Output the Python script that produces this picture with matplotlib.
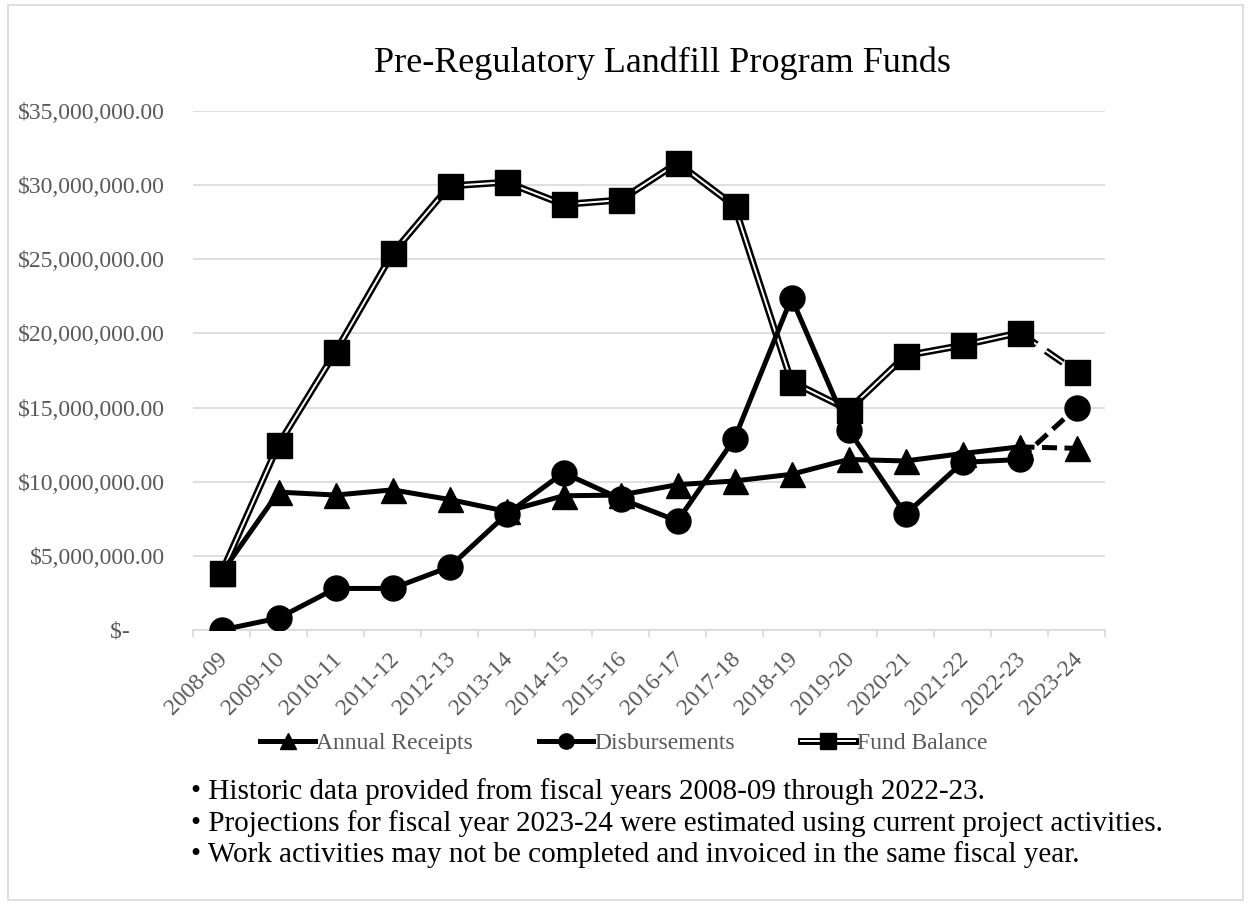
import matplotlib
matplotlib.use("Agg")
import matplotlib.pyplot as plt
from matplotlib.lines import Line2D
from matplotlib.legend_handler import HandlerTuple
from matplotlib.ticker import FuncFormatter, FixedLocator
from matplotlib.patches import Rectangle

plt.rcParams['font.family'] = ['Liberation Serif', 'DejaVu Serif']

years = ["2008-09", "2009-10", "2010-11", "2011-12", "2012-13", "2013-14", "2014-15",
         "2015-16", "2016-17", "2017-18", "2018-19", "2019-20", "2020-21", "2021-22",
         "2022-23", "2023-24"]
annual_receipts = [3.85e6, 9.3e6, 9.1e6, 9.45e6, 8.8e6, 8.0e6, 9.05e6, 9.1e6, 9.8e6,
                   10.05e6, 10.5e6, 11.5e6, 11.4e6, 11.9e6, 12.35e6, 12.25e6]
disbursements = [0.0, 0.8e6, 2.8e6, 2.8e6, 4.25e6, 7.8e6, 10.6e6, 8.85e6, 7.35e6,
                 12.9e6, 22.4e6, 13.5e6, 7.8e6, 11.3e6, 11.5e6, 15.0e6]
fund_balance = [3.85e6, 12.5e6, 18.75e6, 25.4e6, 29.95e6, 30.2e6, 28.7e6, 29.0e6, 31.5e6,
                28.6e6, 16.75e6, 14.85e6, 18.5e6, 19.2e6, 20.05e6, 17.4e6]
series_names = ["Annual Receipts", "Disbursements", "Fund Balance"]

title = "Pre-Regulatory Landfill Program Funds"
notes = ["\u2022 Historic data provided from fiscal years 2008-09 through 2022-23.",
         "\u2022 Projections for fiscal year 2023-24 were estimated using current project activities.",
         "\u2022 Work activities may not be completed and invoiced in the same fiscal year."]

fig = plt.figure(figsize=(12.5, 9.05), dpi=100)
ax = fig.add_axes([0.1544, 0.3039, 0.7296, 0.5734])

x = list(range(len(years)))
n = len(years)
LW = 3.6
FB_OUT, FB_IN = 5.0, 1.4

# Fund Balance: double line
ax.plot(x[:n-1], fund_balance[:n-1], color='black', lw=FB_OUT, solid_capstyle='butt', zorder=2)
ax.plot(x[:n-1], fund_balance[:n-1], color='white', lw=FB_IN, solid_capstyle='butt', zorder=2.1)
ax.plot(x[n-2:], fund_balance[n-2:], color='black', lw=FB_OUT, ls=(0, (3, 1.6)), zorder=2)
ax.plot(x[n-2:], fund_balance[n-2:], color='white', lw=FB_IN, ls=(0, (10.7, 5.7)), zorder=2.1)
ax.plot(x, fund_balance, ls='none', marker='s', ms=18, color='black', zorder=2.2)

# Disbursements
ax.plot(x[:n-1], disbursements[:n-1], color='black', lw=LW, zorder=3)
ax.plot(x[n-2:], disbursements[n-2:], color='black', lw=LW, ls=(0, (3, 1.5)), zorder=3)
ax.plot(x, disbursements, ls='none', marker='o', ms=18, color='black', zorder=3.1)

# Annual receipts
ax.plot(x[:n-1], annual_receipts[:n-1], color='black', lw=LW, zorder=4)
ax.plot(x[n-2:], annual_receipts[n-2:], color='black', lw=LW, ls=(0, (3, 1.5)), zorder=4)
ax.plot(x, annual_receipts, ls='none', marker='^', ms=18, color='black', zorder=4.1)

ax.set_xlim(-0.5, n - 0.5)
ax.set_ylim(0, 35e6)
ax.set_yticks([i * 5e6 for i in range(8)])

def fmt(v, pos):
    if v == 0:
        return "$-      "
    return "${:,.2f}".format(v)

ax.yaxis.set_major_formatter(FuncFormatter(fmt))
ax.set_xticks(x)
ax.set_xticklabels([y + " " for y in years], rotation=45, ha='right', va='top',
                   rotation_mode='anchor')
ax.xaxis.set_minor_locator(FixedLocator([i - 0.5 for i in range(n + 1)]))
ax.tick_params(axis='x', which='major', length=0, pad=11, labelsize=17, labelcolor='#595959')
ax.tick_params(axis='x', which='minor', length=5, color='#d9d9d9', width=1.2)
ax.tick_params(axis='y', length=0, pad=20, labelsize=17, labelcolor='#595959')

ax.grid(axis='y', color='#d9d9d9', lw=1.2, zorder=0)
ax.set_axisbelow(True)
for s in ['top', 'right', 'left']:
    ax.spines[s].set_visible(False)
ax.spines['bottom'].set_color('#d9d9d9')
ax.spines['bottom'].set_linewidth(1.2)

fig.text(0.530, 0.930, title, ha='center', va='center', fontsize=26)

# Legend
h_ar = Line2D([], [], color='black', lw=LW, marker='^', ms=11)
h_di = Line2D([], [], color='black', lw=LW, marker='o', ms=11)
h_fb = (Line2D([], [], color='black', lw=FB_OUT),
        Line2D([], [], color='white', lw=FB_IN),
        Line2D([], [], ls='none', marker='s', ms=11, color='black'))
leg = fig.legend([h_ar, h_di, h_fb], series_names,
                 loc='center', bbox_to_anchor=(0.499, 0.179), ncol=3, frameon=False,
                 fontsize=17, handlelength=2.3, handletextpad=0.05, columnspacing=2.8,
                 borderpad=0, borderaxespad=0,
                 handler_map={tuple: HandlerTuple(ndivide=1, pad=0)})
for t in leg.get_texts():
    t.set_color('#595959')

for i, line in enumerate(notes):
    fig.text(0.153, 0.1249 - i * 0.0348, line, ha='left', va='center', fontsize=21)

fig.patches.append(Rectangle((0.006, 0.006), 0.988, 0.988, transform=fig.transFigure,
                             fill=False, edgecolor='#d9d9d9', lw=1.2))

fig.savefig("out.png", dpi=100)
